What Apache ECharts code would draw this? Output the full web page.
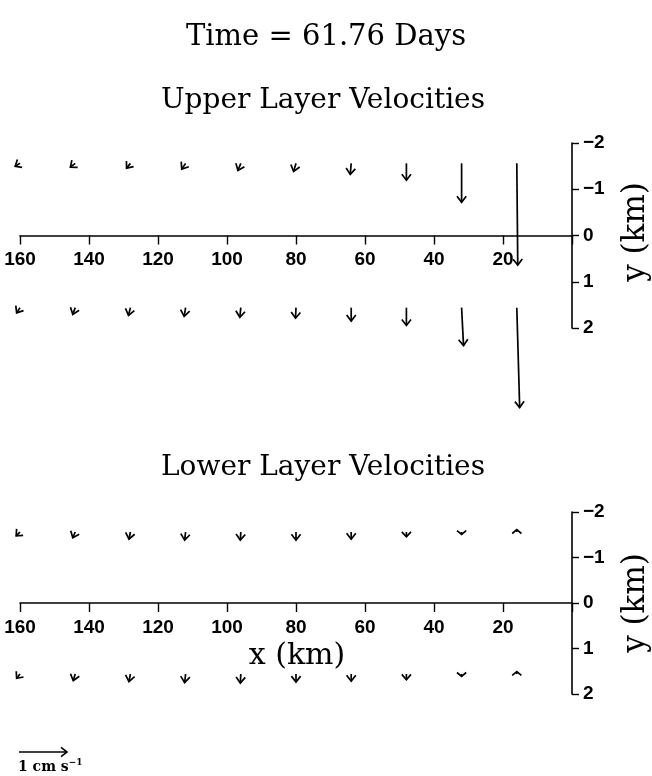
<!DOCTYPE html>
<html>
<head>
<meta charset="utf-8">
<script src="https://cdn.jsdelivr.net/npm/echarts@6/dist/echarts.min.js"></script>
<style>html,body{margin:0;padding:0;background:#fff}#c{width:652px;height:776px}</style>
</head>
<body>
<div id="c"></div>
<script>
// ---- data (km, cm/s) ----
const xPos = [160, 144, 128, 112, 96, 80, 64, 48, 32, 16];
const rowY = [-1.56, 1.56];
const xTicks = [160, 140, 120, 100, 80, 60, 40, 20];
const yTicks = [-2, -1, 0, 1, 2];
// u: component along +x (km axis), v: component along +y
const upperTopU = [0.10, 0.10, 0.08, 0.08, 0.06, 0.05, 0.02, 0.00, 0.00, -0.02];
const upperTopV = [0.06, 0.08, 0.10, 0.12, 0.15, 0.17, 0.23, 0.35, 0.81, 2.12];
const upperBotU = [0.07, 0.05, 0.04, 0.03, 0.02, 0.01, 0.00, 0.00, -0.04, -0.06];
const upperBotV = [0.11, 0.14, 0.16, 0.18, 0.20, 0.22, 0.28, 0.37, 0.79, 2.08];
const lowerTopU = [0.08, 0.05, 0.03, 0.02, 0.01, 0.00, 0.00, 0.00, 0.00, 0.00];
const lowerTopV = [0.08, 0.12, 0.15, 0.17, 0.17, 0.17, 0.15, 0.10, 0.05, -0.05];
const lowerBotU = [0.07, 0.04, 0.03, 0.02, 0.01, 0.00, 0.00, 0.00, 0.00, 0.00];
const lowerBotV = [0.09, 0.14, 0.16, 0.18, 0.19, 0.17, 0.15, 0.12, 0.05, -0.05];
const refSpeed = 1; // cm/s for key arrow

const S = 48; // px per cm/s

function build(topU, topV, botU, botV) {
  const d = [];
  xPos.forEach((x, i) => d.push([x, rowY[0], topU[i], topV[i]]));
  xPos.forEach((x, i) => d.push([x, rowY[1], botU[i], botV[i]]));
  return d;
}
const upperData = build(upperTopU, upperTopV, upperBotU, upperBotV);
const lowerData = build(lowerTopU, lowerTopV, lowerBotU, lowerBotV);

function renderArrow(params, api) {
  const x = api.value(0), y = api.value(1), u = api.value(2), v = api.value(3);
  const p = api.coord([x, y]);
  const px = api.coord([x + 1, y]);
  const py = api.coord([x, y + 1]);
  const sx = Math.sign(px[0] - p[0]) || 1;
  const sy = Math.sign(py[1] - p[1]) || 1;
  const dx = sx * u * S, dy = sy * v * S;
  const len = Math.hypot(dx, dy);
  const tip = [p[0] + dx, p[1] + dy];
  const ux = dx / len, uy = dy / len;
  const hl = Math.min(6, 0.45 * len + 2.8), hw = 4.6;
  const bx = tip[0] - ux * hl, by = tip[1] - uy * hl;
  const left = [bx - uy * hw, by + ux * hw];
  const right = [bx + uy * hw, by - ux * hw];
  const st = { stroke: '#000', lineWidth: 1.7, fill: null, lineJoin: 'miter' };
  return {
    type: 'group',
    children: [
      { type: 'line', shape: { x1: p[0], y1: p[1], x2: tip[0], y2: tip[1] }, style: st },
      { type: 'polyline', shape: { points: [left, tip, right] }, style: st }
    ]
  };
}

const tickFont = { fontFamily: 'Liberation Sans', fontWeight: 'bold', fontSize: 19, color: '#000' };

function xAxis(gi, off) {
  return {
    type: 'value', gridIndex: gi, min: 0, max: 160, interval: 20, inverse: true,
    position: 'bottom', offset: off,
    axisLine: { onZero: false, lineStyle: { color: '#000', width: 1.6 } },
    axisTick: { inside: false, length: 9, lineStyle: { color: '#000', width: 1.4 } },
    axisLabel: Object.assign({ margin: 15, formatter: v => (xTicks.indexOf(v) >= 0 ? String(v) : '') }, tickFont),
    splitLine: { show: false }
  };
}
function yAxis(gi) {
  return {
    type: 'value', gridIndex: gi, min: -2, max: 2, interval: 1, inverse: true, position: 'right',
    axisLine: { onZero: false, lineStyle: { color: '#000', width: 1.6 } },
    axisTick: { inside: false, length: 7, lineStyle: { color: '#000', width: 1.4 } },
    axisLabel: Object.assign({ margin: 11, formatter: v => (yTicks.indexOf(v) >= 0 ? String(v).replace('-', '\u2212') : '') }, tickFont),
    splitLine: { show: false }
  };
}

const serif = 'DejaVu Serif';
const H1 = 185, H2 = 182;
const chart = echarts.init(document.getElementById('c'), null, { renderer: 'canvas' });
chart.setOption({
  animation: false,
  backgroundColor: '#fff',
  grid: [
    { left: 20, right: 80, top: 143, height: H1 },
    { left: 20, right: 80, top: 512, height: H2 }
  ],
  xAxis: [xAxis(0, -H1 / 2), xAxis(1, -H2 / 2)],
  yAxis: [yAxis(0), yAxis(1)],
  series: [
    { type: 'custom', xAxisIndex: 0, yAxisIndex: 0, data: upperData, renderItem: renderArrow, clip: false, encode: { x: 0, y: 1 } },
    { type: 'custom', xAxisIndex: 1, yAxisIndex: 1, data: lowerData, renderItem: renderArrow, clip: false, encode: { x: 0, y: 1 } }
  ],
  graphic: [
    { type: 'text', x: 326, y: 37, style: { text: 'Time = 61.76 Days', font: '29px "' + serif + '"', fill: '#000', textAlign: 'center', textVerticalAlign: 'middle' } },
    { type: 'text', x: 323, y: 101, style: { text: 'Upper Layer Velocities', font: '28px "' + serif + '"', fill: '#000', textAlign: 'center', textVerticalAlign: 'middle' } },
    { type: 'text', x: 323, y: 468, style: { text: 'Lower Layer Velocities', font: '28px "' + serif + '"', fill: '#000', textAlign: 'center', textVerticalAlign: 'middle' } },
    { type: 'text', x: 297, y: 656, style: { text: 'x (km)', font: '30px "' + serif + '"', fill: '#000', textAlign: 'center', textVerticalAlign: 'middle' } },
    { type: 'text', x: 636, y: 232, rotation: Math.PI / 2, style: { text: 'y (km)', font: '31px "' + serif + '"', fill: '#000', textAlign: 'center', textVerticalAlign: 'middle' } },
    { type: 'text', x: 636, y: 603, rotation: Math.PI / 2, style: { text: 'y (km)', font: '31px "' + serif + '"', fill: '#000', textAlign: 'center', textVerticalAlign: 'middle' } },
    { type: 'line', shape: { x1: 19, y1: 752, x2: 19 + refSpeed * S, y2: 752 }, style: { stroke: '#000', lineWidth: 1.6 } },
    { type: 'polyline', shape: { points: [[19 + refSpeed * S - 6, 747.4], [19 + refSpeed * S, 752], [19 + refSpeed * S - 6, 756.6]] }, style: { stroke: '#000', lineWidth: 1.6, fill: null } },
    { type: 'text', x: 18, y: 767, style: { text: '{a|1 cm s}{b|\u22121}', textVerticalAlign: 'middle', rich: {
        a: { fontFamily: serif, fontWeight: 'bold', fontSize: 14, fill: '#000' },
        b: { fontFamily: serif, fontWeight: 'bold', fontSize: 9, fill: '#000', padding: [0, 0, 8, 0] } } } }
  ]
});
</script>
</body>
</html>
